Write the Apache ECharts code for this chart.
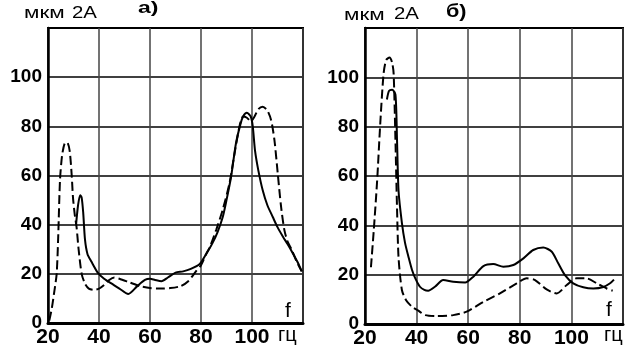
<!DOCTYPE html>
<html><head><meta charset="utf-8">
<script src="https://cdn.jsdelivr.net/npm/echarts@6/dist/echarts.min.js"></script>
<style>html,body{margin:0;padding:0;background:#fff}#c{width:628px;height:359px}</style>
</head><body><div id="c"></div>
<script>
// Frequency ticks (Hz) and amplitude ticks (мкм)
const xTicks = [20, 40, 60, 80, 100];
const yTicks = [0, 20, 40, 60, 80, 100];

// Panel а): [frequency, amplitude]
const aSolid = [[31,40],[31.8,48],[32.6,52],[33.2,51],[33.8,45],[34.5,34],[35.5,28],[37,25],[39.5,20.5],[42,18],[45,16],[48,14],[51.5,11.8],[55,15],[58,17.5],[60,18],[62,17.5],[64.5,17],[67,18.5],[70,20.5],[73,21],[76,22],[79.5,24],[82,28],[84.5,32.5],[86.5,37],[88.5,43],[90,50],[91.8,59.5],[93.7,73],[95.5,81],[96.5,84],[98,85.5],[99.5,84],[100.3,80],[101.2,70],[102.5,62],[104.2,54],[106,48],[108.2,43],[110,39],[112.2,35],[114,32],[116.2,28],[118,24.5],[119.5,21]];
const aDash = [[20.5,1],[21.5,6],[22.5,13],[23.4,20],[24,35],[24.7,58],[25.5,68],[26.5,73],[27.5,73.5],[28.5,70],[29.3,60],[29.8,51],[30.5,44],[31.2,39],[32,30],[33.2,20],[34.5,16],[36,14],[38,13.5],[40,14],[42,15.5],[44,17.5],[46,18.5],[48,18],[52,16.5],[56,15],[60,14.2],[64,14],[68,14.2],[72,15],[75,17],[78,21],[80,23.5],[82,28],[83.5,31],[86,38],[88.5,46],[91.2,57],[93,68],[95.1,80],[96.5,84],[98,83.5],[99.5,82],[101,84],[102.5,87],[104.2,88],[106,86.5],[107.5,82.5],[108.8,74.4],[110.1,60.8],[111.4,47.3],[112.7,37.8],[114,33],[115.5,30],[117.5,25],[119.5,21]];

// Panel б): [frequency, amplitude]
const bSolid = [[28.5,91],[29.3,94.5],[30.5,95],[31.8,93],[32.4,75],[33,54],[34.3,41],[35.5,33],[36.9,27],[38.2,22],[39.5,18.5],[41.3,15.1],[43,13.8],[44.5,13.5],[47.1,15.1],[50.3,17.8],[54.2,17.1],[58.8,16.8],[62,19.2],[65.9,23.5],[69.7,24.3],[73.6,23.2],[77.5,23.9],[81.4,26.6],[85.2,30],[89.1,31],[92.4,29.3],[94.9,24.6],[97.5,19.8],[100.7,16.5],[104.6,14.9],[108.5,14.4],[112.4,15],[115,16.5],[116.5,18]];
const bDash = [[22.3,23],[23.4,38],[24.7,58],[25.9,81],[27.2,101.5],[28.2,107],[29.5,108],[30.5,106],[31.1,101.5],[31.8,74.5],[32.4,47.5],[33,27],[34.3,13.8],[36,9.5],[38.2,7],[40.5,5.5],[43.4,3.6],[47.8,3.2],[54.2,3.6],[59.4,5],[65.9,9],[72.3,12.4],[78.8,16.5],[82.7,18.5],[85.9,17.8],[90.4,14],[94.3,12.4],[98.2,15.8],[102,18.5],[105.9,18.5],[109.8,16.5],[113.7,14.4],[116,13.5]];

const FONT = "'Liberation Sans', Arial, sans-serif";
const chart = echarts.init(document.getElementById('c'), null, {renderer: 'canvas'});

function xAxis(gi) {
  return {
    type: 'value', gridIndex: gi, min: 20, max: 120, interval: 20,
    axisLine: {show: true, lineStyle: {color: '#000', width: 3}},
    axisTick: {show: false},
    axisLabel: {color: '#000', fontFamily: FONT, fontWeight: 'bold', fontSize: 21, margin: 4,
      formatter: v => xTicks.includes(v) ? String(v) : ''},
    splitLine: {show: true, lineStyle: {color: '#444', width: 1.5}}
  };
}
function yAxis(gi) {
  return {
    type: 'value', gridIndex: gi, min: 0, max: 120, interval: 20,
    axisLine: {show: true, lineStyle: {color: '#000', width: 2.5}},
    axisTick: {show: false},
    axisLabel: {color: '#000', fontFamily: FONT, fontWeight: 'bold', fontSize: 19, margin: 6,
      formatter: v => yTicks.includes(v) ? String(v) : ''},
    splitLine: {show: true, lineStyle: {color: '#000', width: 1.5}}
  };
}
function line(data, gi, dashed) {
  return {
    type: 'line', xAxisIndex: gi, yAxisIndex: gi, data: data, smooth: 0.25,
    symbol: 'none', silent: true,
    lineStyle: {color: '#000', width: 2, type: dashed ? [9, 4] : 'solid'}
  };
}
function txt(x, y, s, size, bold, sx) {
  return {type: 'text', x: x, y: y, scaleX: sx || 1, silent: true, z: 100,
    style: {text: s, fill: '#000', fontFamily: FONT, fontSize: size, fontWeight: bold ? 'bold' : 'normal',
      textVerticalAlign: 'top'}};
}

chart.setOption({
  animation: false,
  backgroundColor: '#fff',
  grid: [
    {left: 48, top: 28, width: 255, height: 295, show: true, borderColor: '#000', borderWidth: 2},
    {left: 365, top: 28, width: 258, height: 296, show: true, borderColor: '#000', borderWidth: 2}
  ],
  xAxis: [xAxis(0), xAxis(1)],
  yAxis: [yAxis(0), yAxis(1)],
  series: [line(aSolid, 0, false), line(aDash, 0, true), line(bSolid, 1, false), line(bDash, 1, true)],
  graphic: [
    txt(24, 6, 'мкм', 16, false, 1.4), txt(72, 5, '2A', 17, false, 1.2), txt(138, 0, 'а)', 17, true, 1.35),
    txt(344, 8, 'мкм', 16, false, 1.4), txt(394, 6, '2A', 17, false, 1.2), txt(446, 3, 'б)', 18, true, 1.2),
    txt(285, 301, 'f', 21, false), txt(606, 300, 'f', 21, false),
    txt(278, 325, 'гц', 20, false), txt(604, 325, 'гц', 20, false)
  ]
});
</script></body></html>
